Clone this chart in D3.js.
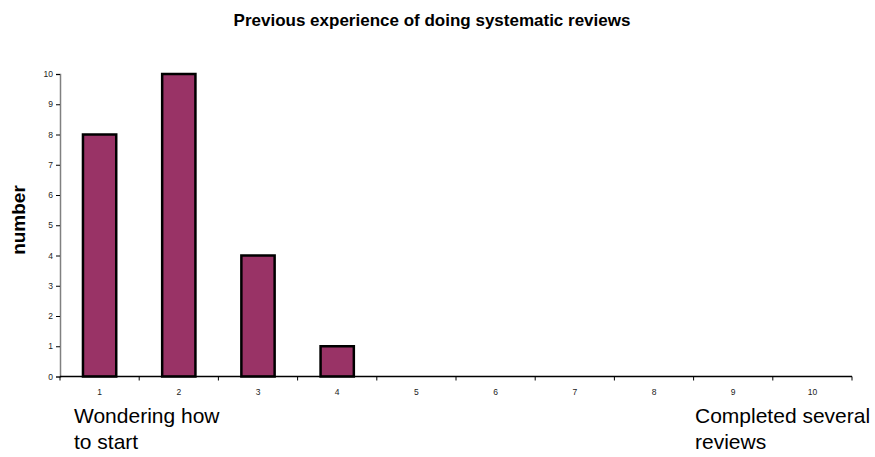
<!DOCTYPE html>
<html><head><meta charset="utf-8">
<script src="https://cdn.jsdelivr.net/npm/d3@7"></script>
<style>body{margin:0;background:#fff}svg{display:block}text{font-family:"Liberation Sans",Arial,sans-serif}</style>
</head><body>
<svg id="c" width="875" height="457"></svg>
<script>
const categories = ["1","2","3","4","5","6","7","8","9","10"];
const values = [8,10,4,1,0,0,0,0,0,0];
const yTicks = [0,1,2,3,4,5,6,7,8,9,10];
const title = "Previous experience of doing systematic reviews";
const yTitle = "number";
const leftLabel = ["Wondering how","to start"];
const rightLabel = ["Completed several","reviews"];

const svg = d3.select("#c");
const x0 = 60, x1 = 852, yTop = 74, yBot = 376.5;
const x = d3.scaleBand().domain(categories).range([x0, x1]).paddingInner(0.58).paddingOuter(0.29);
const y = d3.scaleLinear().domain([0,10]).range([yBot, yTop]);

// bars
const bw = x.bandwidth();
const barData = values.map((v,i)=>({c:categories[i],v})).filter(d=>d.v>0);
svg.append("g").selectAll("rect").data(barData)
  .join("rect")
  .attr("x", d=>x(d.c)).attr("width", bw)
  .attr("y", d=>y(d.v)).attr("height", d=>y(0)-y(d.v))
  .attr("fill","#993366").attr("stroke","#000").attr("stroke-width",2.5);

// y axis
const ya = svg.append("g").attr("transform",`translate(${x0},0)`)
  .call(d3.axisLeft(y).tickValues(yTicks).tickSize(4).tickPadding(3).tickFormat(d3.format("d")));
ya.select(".domain").attr("stroke","#808080").attr("stroke-width",1.5);
ya.selectAll(".tick line").attr("stroke","#000");
ya.selectAll("text").attr("font-size",8.5).attr("fill","#222").style("font-family","Liberation Sans, Arial, sans-serif");

// x axis
const xa = svg.append("g").attr("transform",`translate(0,${yBot})`);
xa.append("line").attr("x1",x0).attr("x2",x1).attr("y1",0).attr("y2",0).attr("stroke","#000").attr("stroke-width",1.5);
const bounds = d3.range(categories.length+1).map(i=>x0 + i*(x1-x0)/categories.length);
xa.selectAll("line.t").data(bounds).join("line").attr("class","t")
  .attr("x1",d=>d).attr("x2",d=>d).attr("y1",0).attr("y2",4).attr("stroke","#000");
xa.selectAll("text").data(categories).join("text")
  .attr("x",d=>x(d)+bw/2).attr("y",18).attr("text-anchor","middle")
  .attr("font-size",8.5).attr("fill","#222").text(d=>d);

// title
svg.append("text").attr("x",432).attr("y",26).attr("text-anchor","middle")
  .attr("font-size",17).attr("font-weight","bold").attr("fill","#000").text(title);

// y title
svg.append("text").attr("transform","translate(25,220) rotate(-90)").attr("text-anchor","middle")
  .attr("font-size",19).attr("font-weight","bold").attr("fill","#000").text(yTitle);

// bottom labels
const ll = svg.append("text").attr("x",74).attr("y",423).attr("font-size",21).attr("fill","#000");
leftLabel.forEach((t,i)=>ll.append("tspan").attr("x",74).attr("dy",i?26:0).text(t));
const rl = svg.append("text").attr("x",695).attr("y",423).attr("font-size",21).attr("fill","#000");
rightLabel.forEach((t,i)=>rl.append("tspan").attr("x",695).attr("dy",i?26:0).text(t));
</script>
</body></html>
